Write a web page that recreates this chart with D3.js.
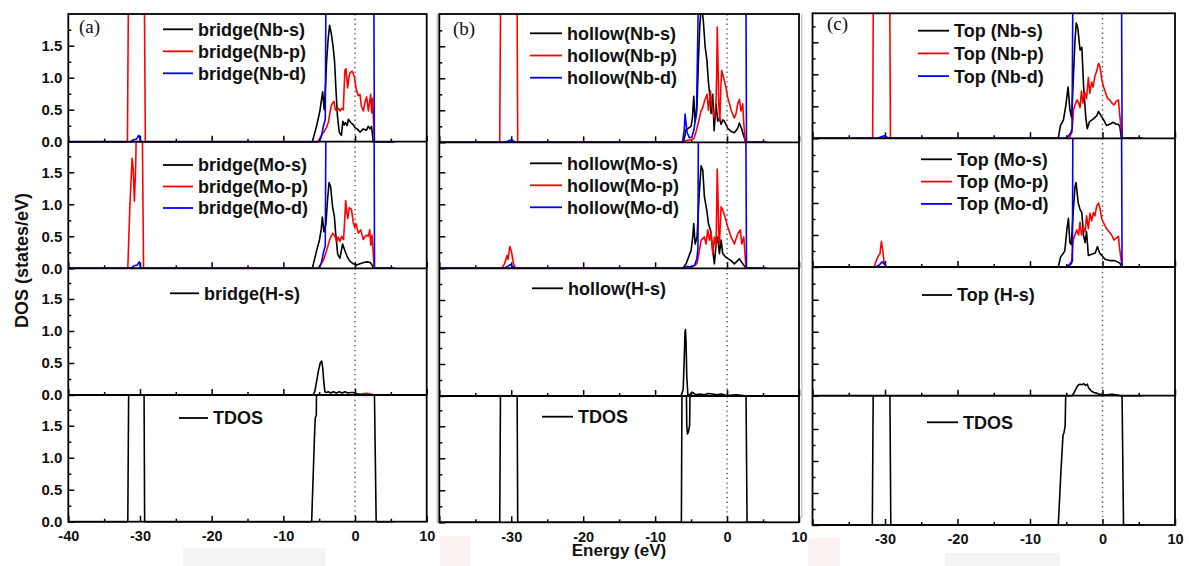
<!DOCTYPE html>
<html>
<head>
<meta charset="utf-8">
<script src="https://cdn.jsdelivr.net/npm/d3@7"></script>
<style>
  html, body { margin: 0; padding: 0; background: #fff; }
  svg { display: block; }
  text { font-family: "Liberation Sans", Arial, sans-serif; font-weight: bold; fill: #111; }
  .tag { font-family: "Liberation Serif", "Times New Roman", serif; font-weight: normal; }
</style>
</head>
<body>
<svg id="chart" width="1189" height="566"></svg>
<script>
// ---------- axis ticks ----------
const energyTicks = [-40, -30, -20, -10, 0, 10];
const energyMinor = [-35, -25, -15, -5, 5];
const dosTicks = [0, 0.5, 1.0, 1.5];
const dosMinor = [0.25, 0.75, 1.25, 1.75];
const panelTags = ["(a)", "(b)", "(c)"];

// ---------- legend labels ----------
const legendBridge = [["bridge(Nb-s)", "bridge(Nb-p)", "bridge(Nb-d)"], ["bridge(Mo-s)", "bridge(Mo-p)", "bridge(Mo-d)"], ["bridge(H-s)"], ["TDOS"]];
const legendHollow = [["hollow(Nb-s)", "hollow(Nb-p)", "hollow(Nb-d)"], ["hollow(Mo-s)", "hollow(Mo-p)", "hollow(Mo-d)"], ["hollow(H-s)"], ["TDOS"]];
const legendTop = [["Top (Nb-s)", "Top (Nb-p)", "Top (Nb-d)"], ["Top (Mo-s)", "Top (Mo-p)", "Top (Mo-d)"], ["Top (H-s)"], ["TDOS"]];

// ---------- DOS curves: [energy (eV), DOS (states/eV)] ----------
// (a) bridge site
const bridgeNbS = [[-5.95,0],[-5.35,0.25],[-4.9,0.48],[-4.52,0.78],[-4.3,0.5],[-4.1,0.9],[-3.96,1.26],[-3.75,1.6],[-3.55,1.82],[-3.3,1.68],[-3.05,1.48],[-2.85,1.25],[-2.65,0.8],[-2.45,0.4],[-2.2,0.15],[-1.9,0.1],[-1.7,0.32],[-1.5,0.26],[-1.35,0.3],[-1.1,0.25],[-0.93,0.35],[-0.6,0.3],[-0.3,0.27],[0.0,0.22],[0.3,0.2],[0.7,0.15],[1.15,0.2],[1.6,0.18],[1.85,0.24],[2.1,0.2],[2.3,0.24],[2.55,0]];
const bridgeNbP = [[-31.75,0],[-31.6,2.5],[-29.4,2.5],[-29.25,0],[-5.15,0],[-4.8,0.08],[-4.42,0.14],[-4.0,0.22],[-3.73,0.3],[-3.45,0.48],[-3.26,0.58],[-2.94,0.63],[-2.75,0.5],[-2.56,0.48],[-2.3,0.52],[-2.1,0.48],[-1.85,0.52],[-1.63,0.5],[-1.5,0.9],[-1.4,1.12],[-1.26,1.14],[-1.03,0.84],[-0.85,1.0],[-0.7,1.08],[-0.38,1.1],[-0.1,1.02],[0.05,0.9],[0.23,0.79],[0.46,0.72],[0.69,0.74],[0.9,0.55],[1.16,0.48],[1.4,0.62],[1.62,0.7],[1.86,0.48],[2.0,0.6],[2.18,0.74],[2.32,0.45],[2.45,0.68],[2.7,0]];
const bridgeNbD = [[-31.3,0],[-30.9,0.03],[-30.5,0.04],[-30.15,0.1],[-29.9,0],[-5.0,0],[-4.7,0.08],[-4.4,0.25],[-4.15,0.35],[-4.05,2.5],[2.62,2.5],[2.7,0]];
const bridgeMoS = [[-5.95,0],[-5.35,0.28],[-4.98,0.43],[-4.7,0.62],[-4.56,0.8],[-4.33,0.57],[-4.05,0.7],[-3.85,1.05],[-3.62,1.34],[-3.4,1.27],[-3.12,0.95],[-2.89,0.82],[-2.66,0.5],[-2.42,0.22],[-2.1,0.16],[-1.9,0.28],[-1.73,0.38],[-1.4,0.27],[-1.15,0.2],[-0.94,0.15],[-0.6,0.1],[-0.24,0.07],[0.2,0.05],[0.7,0.07],[1.2,0.09],[1.7,0.1],[2.1,0.09],[2.35,0.06],[2.55,0]];
const bridgeMoP = [[-31.7,0],[-31.4,1.0],[-31.1,1.72],[-30.95,1.55],[-30.78,1.05],[-30.6,1.6],[-30.45,2.5],[-29.7,2.5],[-29.5,0],[-5.15,0],[-4.8,0.06],[-4.42,0.12],[-3.96,0.28],[-3.5,0.46],[-3.1,0.55],[-2.8,0.5],[-2.55,0.42],[-2.33,0.49],[-2.1,0.42],[-1.87,0.5],[-1.6,0.45],[-1.42,0.8],[-1.3,1.06],[-1.15,0.88],[-1.0,0.78],[-0.8,0.95],[-0.5,0.92],[-0.25,0.72],[-0.05,0.64],[0.13,0.7],[0.46,0.55],[0.79,0.6],[1.16,0.45],[1.4,0.5],[1.62,0.52],[1.85,0.5],[2.05,0.6],[2.2,0.36],[2.37,0.52],[2.68,0]];
const bridgeMoD = [[-31.3,0],[-30.8,0.04],[-30.4,0.05],[-30.1,0.1],[-29.9,0],[-5.0,0],[-4.7,0.08],[-4.4,0.25],[-4.15,0.35],[-4.05,2.5],[2.65,2.5],[2.72,0]];
const bridgeHS = [[-5.85,0],[-5.6,0.06],[-5.35,0.22],[-5.1,0.38],[-4.85,0.5],[-4.65,0.53],[-4.5,0.42],[-4.35,0.2],[-4.2,0.05],[-4.0,0.04],[-3.7,0.05],[-3.4,0.03],[-3.0,0.05],[-2.6,0.03],[-2.2,0.05],[-1.8,0.03],[-1.4,0.05],[-1.0,0.03],[-0.6,0.04],[-0.2,0.04],[0.2,0.02],[0.8,0.01],[1.4,0.02],[2.0,0.01],[2.6,0]];
const bridgeHP = [[0.6,0],[1.0,0.02],[1.6,0.025],[2.2,0.015],[2.5,0]];
const bridgeHD = [];
const bridgeTDOS = [[-31.7,0],[-31.55,2.5],[-29.45,2.5],[-29.35,0],[-6.05,0],[-5.65,1.35],[-5.55,1.62],[-5.4,1.66],[-5.35,2.5],[2.65,2.5],[2.95,0]];

// (b) hollow site
const hollowNbS = [[-6.05,0],[-5.7,0.2],[-5.37,0.22],[-5.0,0.25],[-4.8,0.4],[-4.63,0.72],[-4.44,0.32],[-4.17,0.56],[-3.98,1.28],[-3.8,1.8],[-3.61,2.1],[-3.4,2.0],[-3.3,1.9],[-3.05,1.5],[-2.8,1.28],[-2.6,0.95],[-2.45,0.8],[-2.22,0.45],[-1.99,0.75],[-1.8,0.18],[-1.53,0.6],[-1.3,0.33],[-1.06,0.38],[-0.83,0.28],[-0.6,0.35],[-0.37,0.33],[0.09,0.22],[0.56,0.17],[1.02,0.15],[1.48,0.22],[1.71,0.3],[2.0,0.22],[2.32,0.1],[2.6,0]];
const hollowNbP = [[-31.6,0],[-31.47,2.5],[-29.2,2.5],[-29.1,0],[-6.1,0],[-5.6,0.03],[-5.0,0.04],[-4.6,0.06],[-4.3,0.17],[-4.0,0.3],[-3.61,0.49],[-3.35,0.55],[-3.15,0.64],[-2.95,0.7],[-2.78,0.75],[-2.59,0.5],[-2.45,0.65],[-2.31,0.8],[-2.15,0.6],[-1.99,0.49],[-1.76,0.38],[-1.55,0.6],[-1.45,1.0],[-1.36,1.8],[-1.27,1.3],[-1.15,0.6],[-1.0,0.33],[-0.85,0.9],[-0.74,1.12],[-0.46,1.0],[-0.14,0.85],[0.09,0.7],[0.35,0.6],[0.56,0.5],[1.02,0.38],[1.25,0.45],[1.48,0.6],[1.71,0.67],[1.94,0.49],[2.18,0.6],[2.32,0.3],[2.55,0]];
const hollowNbD = [[-30.8,0],[-30.4,0.02],[-30.0,0.04],[-29.7,0.02],[-29.5,0],[-6.2,0],[-5.95,0.2],[-5.83,0.44],[-5.7,0.3],[-5.55,0.15],[-5.23,0.07],[-4.9,0.08],[-4.6,0.2],[-4.44,0.33],[-4.25,0.45],[-3.95,2.5],[2.62,2.5],[2.7,0]];
const hollowMoS = [[-6.16,0],[-5.69,0.07],[-5.37,0.17],[-5.0,0.28],[-4.77,0.49],[-4.63,0.7],[-4.44,0.38],[-4.17,0.49],[-3.89,1.12],[-3.61,1.6],[-3.38,1.54],[-3.15,1.12],[-2.82,0.91],[-2.59,0.7],[-2.31,0.6],[-1.99,0.28],[-1.76,0.07],[-1.53,0.38],[-1.3,0.49],[-1.06,0.23],[-0.83,0.44],[-0.6,0.23],[-0.14,0.17],[0.56,0.12],[1.02,0.07],[1.71,0.15],[2.18,0.07],[2.64,0]];
const hollowMoP = [[-31.3,0],[-30.9,0.08],[-30.6,0.2],[-30.45,0.14],[-30.2,0.34],[-29.95,0.25],[-29.7,0.08],[-29.4,0],[-5.2,0],[-4.8,0.03],[-4.4,0.05],[-4.17,0.08],[-3.84,0.28],[-3.61,0.44],[-3.15,0.49],[-2.92,0.38],[-2.68,0.6],[-2.45,0.44],[-2.22,0.57],[-1.99,0.23],[-1.76,0.49],[-1.53,0.33],[-1.45,0.9],[-1.37,1.55],[-1.28,1.2],[-1.15,0.5],[-1.06,0.38],[-0.83,0.96],[-0.6,0.91],[-0.28,0.8],[0.09,0.65],[0.56,0.49],[1.02,0.38],[1.48,0.54],[1.85,0.6],[2.04,0.38],[2.32,0.49],[2.64,0]];
const hollowMoD = [[-31.0,0],[-30.5,0.03],[-30.1,0.06],[-29.8,0.03],[-29.5,0],[-6.1,0],[-5.6,0.03],[-5.0,0.02],[-4.5,0.05],[-4.2,0.15],[-4.05,0.3],[-3.98,2.5],[2.6,2.5],[2.7,0]];
const hollowHS = [[-6.4,0],[-6.1,0.1],[-5.95,0.6],[-5.85,1.0],[-5.78,1.04],[-5.7,0.85],[-5.6,0.3],[-5.45,0.02],[-5.2,0.02],[-4.9,0.06],[-4.7,0.05],[-4.4,0.02],[-3.8,0.03],[-3.2,0.02],[-2.6,0.04],[-2.0,0.03],[-1.4,0.02],[-0.8,0.03],[-0.2,0.01],[0.5,0.01],[1.2,0.02],[2.0,0.01],[2.6,0]];
const hollowTDOS = [[-31.6,0],[-31.47,2.5],[-29.2,2.5],[-29.1,0],[-6.35,0],[-6.25,2.5],[-5.7,2.5],[-5.6,1.5],[-5.5,1.38],[-5.35,1.42],[-5.2,1.52],[-5.1,2.5],[2.6,2.5],[2.78,0]];

// (c) top site
const topNbS = [[-6.1,0],[-5.8,0.2],[-5.4,0.28],[-5.05,0.52],[-4.75,0.8],[-4.5,0.45],[-4.25,0.32],[-4.0,1.0],[-3.8,1.52],[-3.62,1.8],[-3.4,1.72],[-3.1,1.38],[-2.85,1.42],[-2.6,0.8],[-2.3,0.32],[-2.1,0.15],[-1.8,0.26],[-1.3,0.3],[-0.8,0.35],[-0.55,0.42],[-0.2,0.35],[0.1,0.3],[0.55,0.2],[1.0,0.22],[1.5,0.25],[1.9,0.22],[2.2,0.22],[2.4,0.18],[2.6,0]];
const topNbP = [[-31.7,0],[-31.6,2.5],[-29.35,2.5],[-29.25,0],[-4.8,0],[-4.5,0.03],[-4.2,0.1],[-4.0,0.45],[-3.8,0.52],[-3.5,0.6],[-3.3,0.55],[-3.1,0.48],[-2.9,0.74],[-2.7,0.55],[-2.45,0.72],[-2.2,0.62],[-1.95,0.95],[-1.75,0.7],[-1.5,0.88],[-1.3,0.8],[-1.05,0.97],[-0.8,1.05],[-0.55,1.17],[-0.35,1.12],[-0.1,0.92],[0.15,0.8],[0.4,0.72],[0.7,0.62],[1.0,0.6],[1.3,0.55],[1.6,0.52],[1.9,0.58],[2.2,0.6],[2.35,0.4],[2.7,0]];
const topNbD = [[-31.0,0],[-30.6,0.02],[-30.1,0.04],[-29.8,0.02],[-29.5,0],[-5.1,0],[-4.7,0.04],[-4.4,0.08],[-4.2,0.15],[-4.08,2.5],[2.62,2.5],[2.7,0]];
const topMoS = [[-6.1,0],[-5.8,0.15],[-5.2,0.25],[-4.9,0.6],[-4.7,0.76],[-4.5,0.38],[-4.3,0.35],[-4.05,0.85],[-3.8,1.25],[-3.65,1.32],[-3.35,1.0],[-3.1,0.9],[-2.85,0.85],[-2.6,0.48],[-2.4,0.38],[-2.2,0.55],[-1.95,0.18],[-1.5,0.2],[-1.0,0.22],[-0.7,0.32],[-0.4,0.22],[-0.1,0.18],[0.35,0.12],[1.0,0.1],[1.7,0.1],[2.4,0.06],[2.65,0]];
const topMoP = [[-31.5,0],[-31.2,0.1],[-30.9,0.18],[-30.7,0.2],[-30.5,0.4],[-30.3,0.25],[-30.1,0.05],[-29.8,0],[-4.8,0],[-4.5,0.05],[-4.25,0.1],[-4.05,0.42],[-3.8,0.5],[-3.55,0.58],[-3.3,0.5],[-3.1,0.7],[-2.9,0.5],[-2.65,0.62],[-2.4,0.55],[-2.2,0.8],[-1.95,0.6],[-1.72,0.84],[-1.5,0.72],[-1.25,0.85],[-1.05,0.8],[-0.8,0.95],[-0.55,1.0],[-0.35,0.92],[-0.1,0.75],[0.2,0.68],[0.55,0.6],[0.9,0.55],[1.25,0.5],[1.6,0.42],[1.9,0.45],[2.2,0.48],[2.35,0.3],[2.7,0]];
const topMoD = [[-31.3,0],[-30.8,0.03],[-30.4,0.08],[-30.1,0.05],[-29.8,0],[-5.0,0],[-4.6,0.03],[-4.3,0.05],[-4.15,0.1],[-4.08,2.5],[2.62,2.5],[2.7,0]];
const topHS = [[-4.2,0],[-4.0,0.03],[-3.7,0.1],[-3.4,0.16],[-3.1,0.18],[-2.85,0.17],[-2.6,0.19],[-2.35,0.16],[-2.1,0.18],[-1.9,0.12],[-1.6,0.08],[-1.2,0.05],[-0.8,0.04],[-0.4,0.02],[0.0,0.02],[0.5,0.01],[1.0,0.02],[1.5,0.02],[2.0,0.01],[2.5,0]];
const topTDOS = [[-31.75,0],[-31.6,2.5],[-29.35,2.5],[-29.2,0],[-6.1,0],[-5.75,0.8],[-5.45,1.4],[-5.3,1.45],[-5.15,1.55],[-5.0,2.5],[2.65,2.5],[2.9,0]];

// ---------- figure assembly ----------
const seriesColors = ["#000000", "#ff0000", "#0000ff"];
const columns = [
  { tag: panelTags[0], legends: legendBridge,
    panels: [[bridgeNbS, bridgeNbP, bridgeNbD], [bridgeMoS, bridgeMoP, bridgeMoD], [bridgeHS, bridgeHP, bridgeHD], [bridgeTDOS]] },
  { tag: panelTags[1], legends: legendHollow,
    panels: [[hollowNbS, hollowNbP, hollowNbD], [hollowMoS, hollowMoP, hollowMoD], [hollowHS], [hollowTDOS]] },
  { tag: panelTags[2], legends: legendTop,
    panels: [[topNbS, topNbP, topNbD], [topMoS, topMoP, topMoD], [topHS], [topTDOS]] }
];

// frame geometry of each column: x extent and the edges of its four stacked panels
const frames = [
  { x0: 68.3,  x1: 426.7, edges: [14, 141.7, 268.3, 395, 521.7], tag: [79, 33] },
  { x0: 439.3, x1: 799,   edges: [14, 142.3, 268.3, 396, 522.3], tag: [453, 35] },
  { x0: 812.5, x1: 1175,  edges: [13.3, 138.3, 267, 395.7, 525], tag: [827, 30] }
];
// legend placement per panel: line start, text start, first row centre, row step
const legendSpots = [
  [{ lx: 163, tx: 198, y: 29.3, dy: 22 }, { lx: 163, tx: 198, y: 165, dy: 21.5 }, { lx: 170, tx: 204, y: 293.3 }, { lx: 179, tx: 213, y: 418 }],
  [{ lx: 530, tx: 567, y: 33.3, dy: 22.2 }, { lx: 530, tx: 567, y: 163.3, dy: 22 }, { lx: 532, tx: 568, y: 288.3 }, { lx: 542, tx: 578, y: 416.7 }],
  [{ lx: 918, tx: 954, y: 30.7, dy: 22.7 }, { lx: 921, tx: 957, y: 159.3, dy: 22.3 }, { lx: 922, tx: 957, y: 295 }, { lx: 927, tx: 963, y: 422.3 }]
];

const PX_PER_UNIT = 64;          // vertical pixels per state/eV
const E_LOW = -40, E_HIGH = 5.5; // energy window of the computed DOS
const withTails = s => [[E_LOW, 0], ...s, [E_HIGH, 0]];

const svg = d3.select("#chart");
const defs = svg.append("defs");

// faint scanner marks below the frames and the seams between the three sub-figures
const paperMarks = svg.append("g");
[[183, 548, 142, 18, "#f4f4f4"], [440, 536, 30, 30, "#fbf1f1"], [808, 538, 32, 28, "#fbf1f1"], [945, 553, 115, 13, "#f4f4f4"]]
  .forEach(([rx, ry, rw, rh, c]) => paperMarks.append("rect").attr("x", rx).attr("y", ry).attr("width", rw).attr("height", rh).attr("fill", c));
[[437.2, 14, 523], [801.8, 14, 518]]
  .forEach(([lx, ya, yb]) => paperMarks.append("line").attr("x1", lx).attr("x2", lx).attr("y1", ya).attr("y2", yb)
    .attr("stroke", "#c4c4c4").attr("stroke-width", 1.4));

columns.forEach((col, ci) => {
  const F = frames[ci];
  const x = d3.scaleLinear().domain([-40, 10]).range([F.x0, F.x1]);
  const g = svg.append("g");
  // the first column carries the -40 label; the others start at -30
  const energyLabel = d => (ci > 0 && d === -40) ? "" : String(d);

  col.panels.forEach((series, pi) => {
    const top = F.edges[pi], bottom = F.edges[pi + 1];
    const y = d3.scaleLinear().domain([0, (bottom - top) / PX_PER_UNIT]).range([bottom, top]);
    const clipId = `clip-${ci}-${pi}`;
    defs.append("clipPath").attr("id", clipId)
      .append("rect").attr("x", F.x0).attr("y", top - 0.5)
      .attr("width", F.x1 - F.x0).attr("height", bottom - top + 2);

    const pg = g.append("g");

    // Fermi level
    pg.append("line")
      .attr("x1", x(0)).attr("x2", x(0)).attr("y1", top).attr("y2", bottom)
      .attr("stroke", "#555").attr("stroke-width", 1.4)
      .attr("stroke-dasharray", "1.4,3.4");

    // axes with inward ticks
    const leftMajor = d3.axisLeft(y).tickValues(dosTicks).tickSize(-6).tickSizeOuter(0).tickPadding(6)
      .tickFormat(ci === 0 ? d3.format(".1f") : () => "");
    const leftMinor = d3.axisLeft(y).tickValues(dosMinor).tickSize(-3).tickSizeOuter(0).tickFormat(() => "");
    const botMajor = d3.axisBottom(x).tickValues(energyTicks).tickSize(-6).tickSizeOuter(0).tickPadding(9)
      .tickFormat(pi === 3 ? energyLabel : () => "");
    const botMinor = d3.axisBottom(x).tickValues(energyMinor).tickSize(-3).tickSizeOuter(0).tickFormat(() => "");

    [[leftMajor, `translate(${F.x0},0)`, 15], [leftMinor, `translate(${F.x0},0)`, 15],
     [botMajor, `translate(0,${bottom})`, 14.5], [botMinor, `translate(0,${bottom})`, 14.5]]
      .forEach(([ax, tr, fs]) => {
        const a = pg.append("g").attr("transform", tr).call(ax);
        a.select(".domain").remove();
        a.selectAll("line").attr("stroke", "#000").attr("stroke-width", 1.5);
        a.selectAll("text").attr("font-size", fs).attr("font-family", null).attr("fill", "#111");
      });

    // DOS curves: black, red, blue (blue on top)
    const line = d3.line().x(d => x(d[0])).y(d => y(d[1]));
    series.forEach((s, si) => {
      pg.append("path")
        .attr("d", line(withTails(s)))
        .attr("fill", "none")
        .attr("stroke", seriesColors[si])
        .attr("stroke-width", 1.6)
        .attr("stroke-linejoin", "round")
        .attr("clip-path", `url(#${clipId})`);
    });

    // legend
    const spot = legendSpots[ci][pi];
    col.legends[pi].forEach((label, li) => {
      const cy = spot.y + li * (spot.dy || 0);
      pg.append("line")
        .attr("x1", spot.lx).attr("x2", spot.tx - 5).attr("y1", cy).attr("y2", cy)
        .attr("stroke", seriesColors[li]).attr("stroke-width", 1.8);
      pg.append("text")
        .attr("x", spot.tx).attr("y", cy + 6.4)
        .attr("font-size", 18)
        .text(label);
    });

    // panel separator
    if (pi > 0) {
      pg.append("line").attr("x1", F.x0).attr("x2", F.x1).attr("y1", top).attr("y2", top)
        .attr("stroke", "#000").attr("stroke-width", 1.8);
    }
  });

  // column frame
  g.append("rect")
    .attr("x", F.x0).attr("y", F.edges[0])
    .attr("width", F.x1 - F.x0).attr("height", F.edges[4] - F.edges[0])
    .attr("fill", "none").attr("stroke", "#000").attr("stroke-width", 1.8);

  g.append("text").attr("class", "tag")
    .attr("x", F.tag[0]).attr("y", F.tag[1])
    .attr("font-size", 19).text(col.tag);
});

// axis titles
svg.append("text")
  .attr("transform", "translate(28,260.5) rotate(-90)")
  .attr("text-anchor", "middle").attr("font-size", 18)
  .text("DOS (states/eV)");
svg.append("text")
  .attr("x", 619).attr("y", 556)
  .attr("text-anchor", "middle").attr("font-size", 17)
  .text("Energy (eV)");
</script>
</body>
</html>
